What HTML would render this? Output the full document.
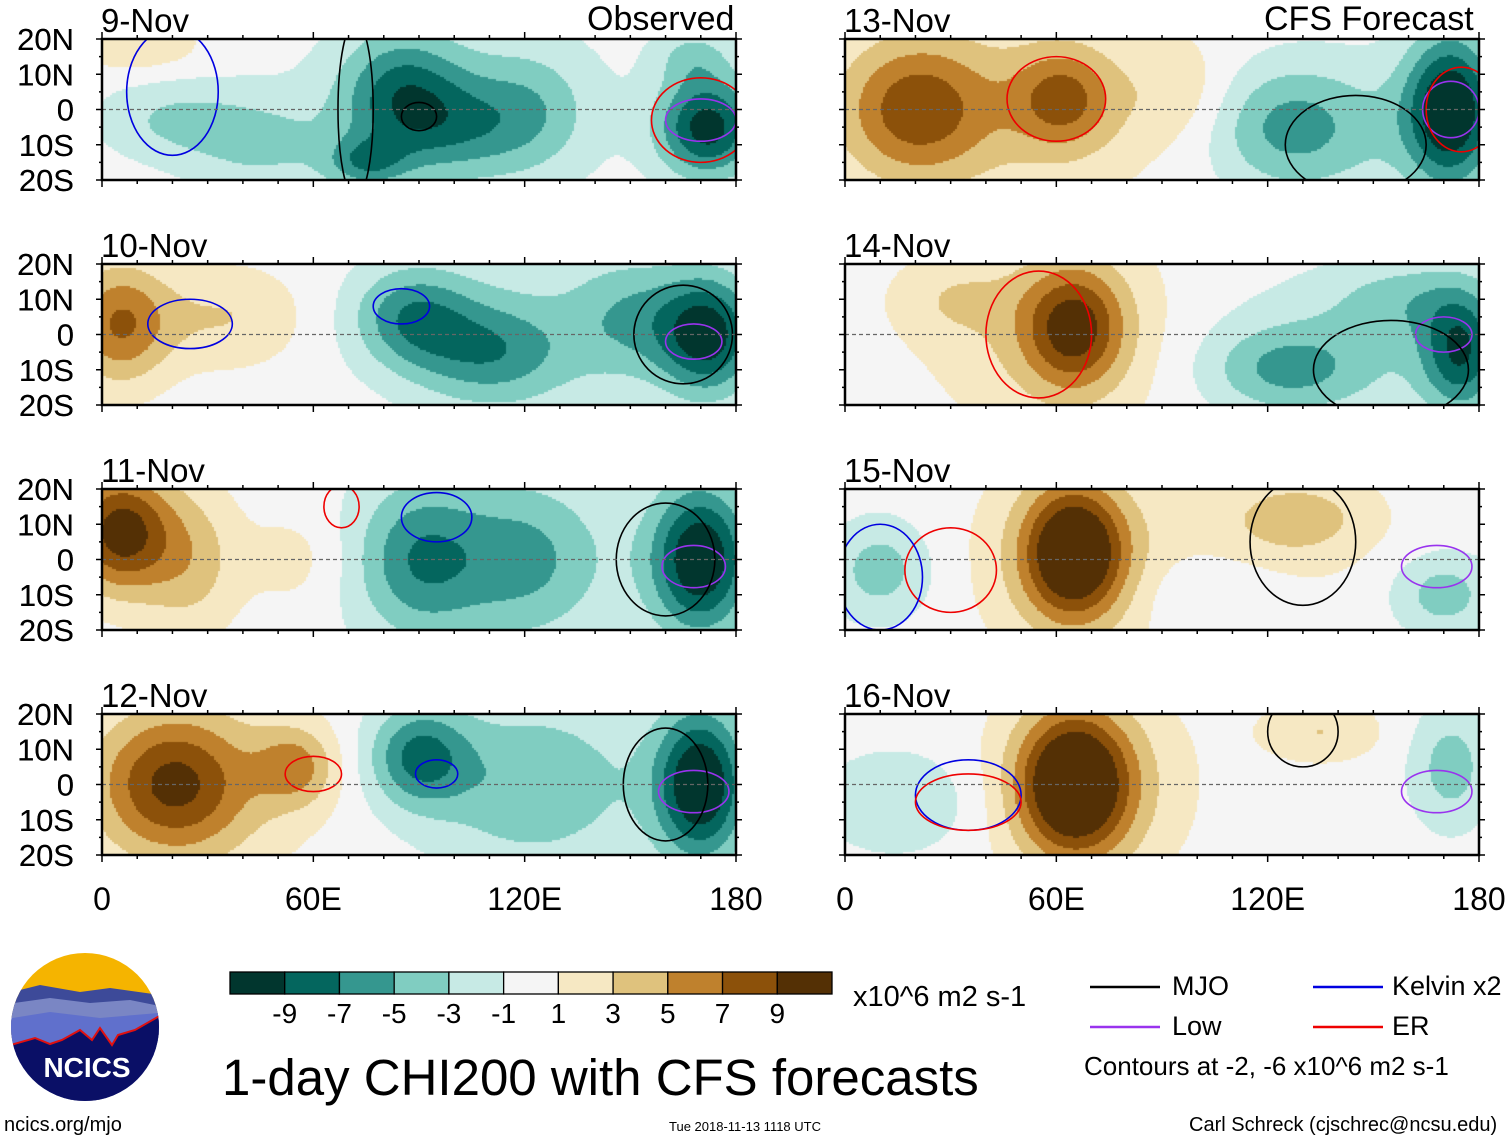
<!DOCTYPE html>
<html><head><meta charset="utf-8"><style>
html,body{margin:0;padding:0;background:#fff;}
body{width:1510px;height:1142px;position:relative;overflow:hidden;font-family:"Liberation Sans",Arial,sans-serif;color:#000;}
.t{position:absolute;white-space:nowrap;line-height:1;}
canvas{position:absolute;}
svg{position:absolute;left:0;top:0;}
</style></head><body>
<svg id="ov" width="1510" height="1142"></svg>
<div class="t" style="left:222px;top:1052px;font-size:51px;">1-day CHI200 with CFS forecasts</div>
<div class="t" style="left:853px;top:983px;font-size:29px;">x10^6 m2 s-1</div>
<div class="t" style="left:1172px;top:973px;font-size:27px;">MJO</div>
<div class="t" style="left:1392px;top:973px;font-size:27px;">Kelvin x2</div>
<div class="t" style="left:1172px;top:1013px;font-size:27px;">Low</div>
<div class="t" style="left:1392px;top:1013px;font-size:27px;">ER</div>
<div class="t" style="left:1084px;top:1053px;font-size:26px;">Contours at -2, -6 x10^6 m2 s-1</div>
<div class="t" style="left:1189px;top:1115px;font-size:20px;">Carl Schreck (cjschrec@ncsu.edu)</div>
<div class="t" style="left:4px;top:1115px;font-size:20px;">ncics.org/mjo</div>
<div class="t" style="left:669px;top:1120px;font-size:13px;">Tue 2018-11-13 1118 UTC</div>
<div class="t" style="left:587px;top:2px;font-size:34px;">Observed</div>
<div class="t" style="left:1264px;top:2px;font-size:34px;">CFS Forecast</div>
<script>
// ---- data ----
const panelDates=["9-Nov","10-Nov","11-Nov","12-Nov","13-Nov","14-Nov","15-Nov","16-Nov"];
const latTicks=["20N","10N","0","10S","20S"];
const lonTicks=["0","60E","120E","180"];
const cbLabels=["-9","-7","-5","-3","-1","1","3","5","7","9"];
const cbEdges=[-9,-7,-5,-3,-1,1,3,5,7,9];
const cbColors=["#01362e","#04665e","#35978f","#80cdc1","#c7eae5","#f5f5f5","#f6e8c3","#dfc27d","#bf812d","#8c510a","#543005"];
// anomaly blobs per panel: [lon, lat, amplitude, sigmaLon, sigmaLat]
const blobs9=[[10,18,3,12,5],[20,-3,-3,15,8],[45,-10,-3,15,10],[85,5,-6,12,12],[100,-5,-4,15,10],[122,0,-3,12,12],[75,-15,-5,8,5],[172,-5,-10,10,10],[168,15,-3,8,6],[100,0,-2,30,20]];
const blobs10=[[5,3,7,10,12],[35,5,3,15,10],[88,5,-6,12,10],[110,-5,-5,15,10],[150,5,-4,12,12],[172,0,-10,10,12],[120,0,-2,25,20]];
const blobs11=[[5,8,10,10,12],[25,0,4,10,15],[55,0,2,10,10],[90,0,-5,12,15],[120,0,-3.5,15,15],[170,0,-11,10,15],[110,0,-2.5,30,20]];
const blobs12=[[20,0,8,15,14],[55,5,5,8,8],[90,8,-7,10,10],[120,0,-3,18,15],[170,0,-11,9,15],[130,0,-2,30,20],[30,0,2,25,20]];
const blobs13=[[20,0,7,15,14],[62,3,6,10,10],[95,5,2,10,10],[125,-5,-4,15,12],[172,0,-11,9,15],[50,0,2.5,35,20],[140,-5,-2.5,25,15]];
const blobs14=[[65,2,8,10,12],[30,10,2,12,8],[125,-10,-4,15,8],[175,-5,-8,8,12],[160,10,-3,15,8],[60,0,3,25,20],[140,-5,-2.5,30,15]];
const blobs15=[[65,2,11,10,13],[130,12,3,15,8],[10,-3,-4,10,10],[170,-10,-4,10,8],[105,-10,-2,15,8],[65,0,3,20,20],[120,5,1.5,20,15]];
const blobs16=[[65,0,12,11,14],[135,15,3,12,6],[15,-5,-3,15,10],[172,5,-4,8,12],[70,0,3,20,20]];
const allBlobs=[blobs9,blobs10,blobs11,blobs12,blobs13,blobs14,blobs15,blobs16];
// contour ellipses per panel: [lon, lat, rLon, rLat, type]
const contours=[
 [[20,5,13,18,"k"],[90,-2,5,4,"m"],[170,-3,10,6,"l"],[170,-3,14,12,"e"],[72,0,5,25,"m"]],
 [[25,3,12,7,"k"],[85,8,8,5,"k"],[168,-2,8,5,"l"],[165,0,14,14,"m"]],
 [[68,15,5,6,"e"],[95,12,10,7,"k"],[168,-2,9,6,"l"],[160,0,14,16,"m"]],
 [[60,3,8,5,"e"],[95,3,6,4,"k"],[168,-2,10,6,"l"],[160,0,12,16,"m"]],
 [[60,3,14,12,"e"],[172,0,8,8,"l"],[175,0,10,12,"e"],[145,-10,20,14,"m"]],
 [[55,0,15,18,"e"],[170,0,8,5,"l"],[155,-10,22,14,"m"]],
 [[30,-3,13,12,"e"],[10,-5,12,15,"k"],[168,-2,10,6,"l"],[130,5,15,18,"m"]],
 [[35,-3,15,10,"k"],[35,-5,15,8,"e"],[168,-2,10,6,"l"],[130,15,10,10,"m"]]
];
const ctypeColor={m:"#000",k:"#0000e0",l:"#9933ee",e:"#ee0000"};
// ---- layout ----
const colX=[102,845], rowY=[39,264,489,714], PW=634, PH=141;
const NS="http://www.w3.org/2000/svg";
const ov=document.getElementById('ov');
function lonX(px,lon){return px+lon/180*PW;}
function latY(py,lat){return py+(20-lat)/40*PH;}
function colorOf(v){let i=0;while(i<cbEdges.length&&v>=cbEdges[i])i++;return cbColors[i];}
function mk(tag,attrs){const e=document.createElementNS(NS,tag);for(const k in attrs)e.setAttribute(k,attrs[k]);ov.appendChild(e);return e;}
function txt(x,y,s,size,anchor){const e=mk('text',{x:x,y:y,'font-size':size,'text-anchor':anchor||'start','font-family':'Liberation Sans, Arial, sans-serif'});e.textContent=s;return e;}
allBlobs.forEach((bl,p)=>{
  const px=colX[p<4?0:1], py=rowY[p%4];
  const cv=document.createElement('canvas');
  cv.width=PW;cv.height=PH;cv.style.left=px+'px';cv.style.top=py+'px';
  
  
  document.body.insertBefore(cv,ov);
  const ctx=cv.getContext('2d');
  const S=2;
  for(let y=0;y<PH;y+=S)for(let x=0;x<PW;x+=S){
    const lon=(x+1)/PW*180, lat=20-(y+1)/PH*40;let v=0;
    for(const b of bl){const dx=(lon-b[0])/b[3],dy=(lat-b[1])/b[4];v+=b[2]*Math.exp(-0.5*(dx*dx+dy*dy));}
    ctx.fillStyle=colorOf(v);ctx.fillRect(x,y,S,S);
  }
  const cp=mk('clipPath',{id:'clip'+p});
  const r=document.createElementNS(NS,'rect');r.setAttribute('x',px);r.setAttribute('y',py);r.setAttribute('width',PW);r.setAttribute('height',PH);cp.appendChild(r);
  contours[p].forEach(c=>{
    const e=mk('ellipse',{cx:lonX(px,c[0]),cy:latY(py,c[1]),rx:c[2]/180*PW,ry:c[3]/40*PH,fill:'none',stroke:ctypeColor[c[4]],'stroke-width':1.6,'clip-path':'url(#clip'+p+')'});
    
    
  });
  const eq=mk('line',{x1:px,x2:px+PW,y1:latY(py,0),y2:latY(py,0),stroke:'#666','stroke-width':1.2,'stroke-dasharray':'4,3'});
  
  
  const fr=mk('rect',{x:px,y:py,width:PW,height:PH,fill:'none',stroke:'#000','stroke-width':2.5});
  
  
  for(let lon=0;lon<=180;lon+=10){const X=lonX(px,lon),L=lon%60==0?7:4;
    mk('line',{x1:X,x2:X,y1:py,y2:py-L,stroke:'#000','stroke-width':1.5});
    mk('line',{x1:X,x2:X,y1:py+PH,y2:py+PH+L,stroke:'#000','stroke-width':1.5});}
  for(let lat=-20;lat<=20;lat+=5){const Y=latY(py,lat),L=lat%10==0?6:3;
    mk('line',{x1:px,x2:px-L,y1:Y,y2:Y,stroke:'#000','stroke-width':1.5});
    mk('line',{x1:px+PW,x2:px+PW+L,y1:Y,y2:Y,stroke:'#000','stroke-width':1.5});}
  const dt=txt(px-1,py-7,panelDates[p],33);
  
  
  latTicks.forEach((s,i)=>{const t=txt(74,latY(py,20-i*10)+11,s,31,'end');
    
    });
});
colX.forEach(px=>{lonTicks.forEach((s,i)=>{const t=txt(lonX(px,i*60),910,s,32,'middle');
  
  });});
const cbX=230,cbW=602,cbY=972,cbH=22,bw=cbW/cbColors.length;
cbColors.forEach((c,i)=>{const r=mk('rect',{x:cbX+i*bw,y:cbY,width:bw,height:cbH,fill:c,stroke:'#000','stroke-width':1.3});
  
  });
cbLabels.forEach((s,i)=>{const t=txt(cbX+(i+1)*bw,1023,s,28,'middle');
  
  });
[[1090,987,'#000'],[1313,987,'#0000e0'],[1090,1027,'#9933ee'],[1313,1027,'#ee0000']].forEach(l=>{
  const e=mk('line',{x1:l[0],x2:l[0]+70,y1:l[1],y2:l[1],stroke:l[2],'stroke-width':2.5});
  
  });
const cl=mk('clipPath',{id:'logoclip'});
const cc=document.createElementNS(NS,'circle');cc.setAttribute('cx',85);cc.setAttribute('cy',1027);cc.setAttribute('r',74);cl.appendChild(cc);
const g=mk('g',{'clip-path':'url(#logoclip)'});


[['rect',{x:0,y:950,width:170,height:160,fill:'#f5b400'}],
 ['path',{d:'M0 995 L40 985 L80 992 L110 988 L160 995 L170 1000 L170 1110 L0 1110Z',fill:'#3d4a99'}],
 ['path',{d:'M0 1005 L50 998 L90 1003 L130 1000 L170 1008 L170 1110 L0 1110Z',fill:'#7a86c4'}],
 ['path',{d:'M0 1020 L50 1012 L100 1018 L170 1012 L170 1110 L0 1110Z',fill:'#6070cc'}],
 ['path',{d:'M0 1048 L35 1038 L50 1044 L62 1040 L80 1030 L92 1040 L100 1028 L112 1045 L118 1035 L135 1030 L170 1010 L170 1110 L0 1110Z',fill:'#0a0f66',stroke:'#e01010','stroke-width':2}]
].forEach(s=>{const e=document.createElementNS(NS,s[0]);for(const k in s[1])e.setAttribute(k,s[1][k]);g.appendChild(e);});
const nt=document.createElementNS(NS,'text');nt.setAttribute('x',87);nt.setAttribute('y',1077);nt.setAttribute('font-size',28);nt.setAttribute('font-weight','bold');nt.setAttribute('fill','#fff');nt.setAttribute('text-anchor','middle');nt.setAttribute('font-family','Liberation Sans, Arial, sans-serif');nt.textContent='NCICS';g.appendChild(nt);
</script>
</body></html>
